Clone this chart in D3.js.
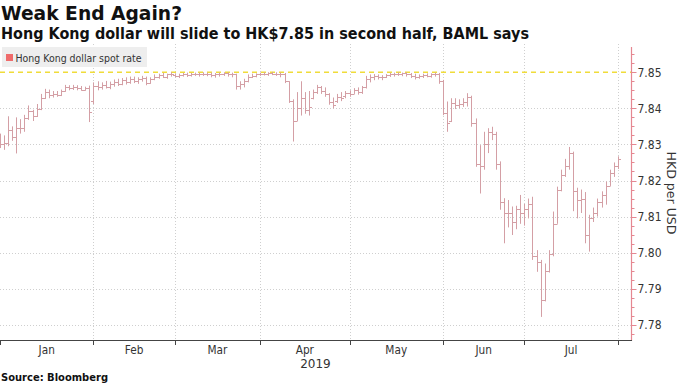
<!DOCTYPE html>
<html><head><meta charset="utf-8">
<script src="https://cdn.jsdelivr.net/npm/d3@7"></script>
<style>html,body{margin:0;padding:0;background:#fff}svg{display:block}</style>
</head><body>
<svg id="c" width="680" height="383"></svg>
<script>
// ---------- text ----------
const titleText = "Weak End Again?";
const subtitleText = "Hong Kong dollar will slide to HK$7.85 in second half, BAML says";
const seriesName = "Hong Kong dollar spot rate";
const sourceText = "Source: Bloomberg";
const yAxisTitle = "HKD per USD";
const yearLabel = "2019";
const monthLabels = ["Jan","Feb","Mar","Apr","May","Jun","Jul"];
const yTickValues = [7.78,7.79,7.80,7.81,7.82,7.83,7.84,7.85];
const pegLine = 7.85;
const firstDay = "2019-01-01", lastDay = "2019-08-01";

// ---------- daily OHLC (trading days) ----------
const openVals = [
 7.8320,7.8300,7.8305,7.8340,7.8320,7.8345,7.8345,7.8372,7.8392,7.8378,
 7.8398,7.8430,7.8445,7.8436,7.8440,7.8438,7.8448,7.8458,7.8456,7.8460,
 7.8455,7.8452,7.8456,
 7.8420,7.8462,7.8458,7.8466,7.8460,7.8468,7.8472,7.8468,7.8478,7.8472,
 7.8482,7.8476,7.8480,7.8484,7.8470,7.8482,7.8488,7.8492,7.8488,7.8494,
 7.8492,7.8490,7.8493,7.8494,7.8492,7.8495,7.8494,7.8496,7.8495,7.8494,
 7.8492,7.8495,7.8496,7.8497,7.8496,7.8494,7.8462,7.8468,7.8476,7.8488,7.8490,
 7.8494,7.8496,7.8495,7.8497,7.8496,7.8494,7.8496,7.8475,7.8420,7.8365,
 7.8400,7.8430,7.8395,7.8430,7.8445,7.8458,7.8448,7.8440,7.8418,7.8420,7.8432,7.8435,
 7.8442,7.8440,7.8450,7.8445,7.8458,7.8480,7.8488,7.8490,7.8486,7.8488,
 7.8492,7.8494,7.8496,7.8495,7.8497,7.8494,7.8490,7.8486,7.8490,7.8492,
 7.8490,7.8494,7.8496,
 7.8475,7.8386,7.8365,7.8415,7.8410,7.8412,7.8418,7.8432,7.8360,7.8245,
 7.8240,7.8300,7.8335,7.8330,7.8245,7.8140,7.8110,7.8110,7.8085,7.8120,
 7.8110,7.8120,7.8135,7.7990,7.7975,7.7868,7.7950,7.7995,7.8080,7.8175,
 7.8215,7.8240,7.8275,7.8170,7.8145,7.8150,7.8050,7.8095,7.8110,7.8140,
 7.8160,7.8185,7.8222,7.8240
];
const highVals = [
 7.8330,7.8325,7.8378,7.8350,7.8375,7.8370,7.8382,7.8408,7.8396,7.8412,
 7.8440,7.8454,7.8452,7.8448,7.8448,7.8452,7.8465,7.8464,7.8465,7.8464,
 7.8462,7.8460,7.8463,
 7.8472,7.8475,7.8472,7.8476,7.8474,7.8480,7.8482,7.8484,7.8486,7.8488,
 7.8488,7.8486,7.8490,7.8488,7.8486,7.8494,7.8496,7.8498,7.8496,7.8500,
 7.8497,7.8496,7.8498,7.8499,7.8498,7.8499,7.8499,7.8500,7.8499,7.8499,
 7.8498,7.8499,7.8500,7.8500,7.8499,7.8496,7.8475,7.8482,7.8494,7.8496,7.8497,
 7.8499,7.8500,7.8500,7.8501,7.8500,7.8499,7.8498,7.8475,7.8425,7.8445,
 7.8475,7.8445,7.8448,7.8452,7.8465,7.8462,7.8458,7.8442,7.8430,7.8440,7.8445,7.8448,
 7.8450,7.8456,7.8458,7.8462,7.8490,7.8494,7.8495,7.8494,7.8492,7.8495,
 7.8498,7.8499,7.8500,7.8499,7.8500,7.8498,7.8496,7.8494,7.8496,7.8497,
 7.8497,7.8499,7.8498,
 7.8479,7.8419,7.8428,7.8428,7.8425,7.8428,7.8442,7.8435,7.8372,7.8298,
 7.8335,7.8345,7.8349,7.8335,7.8253,7.8151,7.8146,7.8128,7.8130,7.8160,
 7.8135,7.8150,7.8155,7.8007,7.7980,7.7970,7.8007,7.8114,7.8183,7.8230,
 7.8260,7.8293,7.8280,7.8180,7.8175,7.8168,7.8105,7.8125,7.8150,7.8170,
 7.8197,7.8230,7.8250,7.8267
];
const lowVals = [
 7.8290,7.8285,7.8295,7.8310,7.8275,7.8330,7.8335,7.8368,7.8365,7.8376,
 7.8395,7.8426,7.8428,7.8430,7.8432,7.8434,7.8446,7.8450,7.8451,7.8450,
 7.8449,7.8449,7.8362,
 7.8412,7.8450,7.8452,7.8455,7.8453,7.8460,7.8462,7.8464,7.8466,7.8468,
 7.8470,7.8468,7.8474,7.8464,7.8468,7.8478,7.8482,7.8484,7.8482,7.8488,
 7.8486,7.8484,7.8488,7.8487,7.8488,7.8490,7.8488,7.8490,7.8489,7.8486,
 7.8485,7.8488,7.8490,7.8488,7.8486,7.8452,7.8452,7.8458,7.8472,7.8484,7.8486,
 7.8490,7.8491,7.8490,7.8492,7.8490,7.8486,7.8470,7.8415,7.8308,7.8365,
 7.8380,7.8385,7.8380,7.8425,7.8440,7.8440,7.8432,7.8410,7.8400,7.8415,7.8420,7.8428,
 7.8432,7.8440,7.8438,7.8440,7.8455,7.8472,7.8478,7.8480,7.8478,7.8484,
 7.8487,7.8488,7.8490,7.8489,7.8488,7.8484,7.8480,7.8482,7.8484,7.8486,
 7.8485,7.8488,7.8468,
 7.8381,7.8335,7.8362,7.8398,7.8400,7.8404,7.8405,7.8349,7.8238,7.8164,
 7.8230,7.8276,7.8312,7.8230,7.8119,7.8026,7.8070,7.8049,7.8065,7.8080,
 7.8075,7.8095,7.7980,7.7947,7.7822,7.7865,7.7945,7.7990,7.8080,7.8170,
 7.8210,7.8230,7.8115,7.8095,7.8110,7.8026,7.8003,7.8085,7.8100,7.8125,
 7.8133,7.8185,7.8210,7.8232
];
const closeVals = [
 7.8300,7.8305,7.8340,7.8320,7.8345,7.8345,7.8372,7.8392,7.8378,7.8398,
 7.8430,7.8445,7.8436,7.8440,7.8438,7.8448,7.8458,7.8456,7.8460,7.8455,
 7.8452,7.8456,7.8390,
 7.8462,7.8458,7.8466,7.8460,7.8468,7.8472,7.8468,7.8478,7.8472,7.8482,
 7.8476,7.8480,7.8484,7.8470,7.8482,7.8488,7.8492,7.8488,7.8494,7.8496,
 7.8490,7.8493,7.8494,7.8492,7.8495,7.8494,7.8496,7.8495,7.8494,7.8492,
 7.8495,7.8496,7.8497,7.8496,7.8494,7.8462,7.8468,7.8476,7.8488,7.8490,7.8494,
 7.8496,7.8495,7.8497,7.8496,7.8494,7.8496,7.8475,7.8420,7.8365,7.8400,
 7.8430,7.8395,7.8405,7.8445,7.8458,7.8448,7.8440,7.8418,7.8410,7.8432,7.8428,7.8442,
 7.8440,7.8450,7.8445,7.8458,7.8480,7.8488,7.8490,7.8486,7.8488,7.8492,
 7.8494,7.8496,7.8495,7.8497,7.8494,7.8490,7.8486,7.8490,7.8492,7.8490,
 7.8494,7.8496,7.8475,
 7.8386,7.8360,7.8415,7.8410,7.8412,7.8418,7.8432,7.8360,7.8245,7.8240,
 7.8300,7.8335,7.8330,7.8245,7.8140,7.8110,7.8110,7.8085,7.8120,7.8110,
 7.8120,7.8135,7.7990,7.7975,7.7868,7.7950,7.7995,7.8080,7.8175,7.8215,
 7.8240,7.8275,7.8170,7.8145,7.8150,7.8050,7.8095,7.8110,7.8140,7.8160,
 7.8185,7.8222,7.8240,7.8260
];

// ---------- layout ----------
const plot = {left: 0, right: 631, top: 47, bottom: 340};
const barColor = "#d49fa5";
const legendColor = "#ef6b6b";
const axisColor = "#e58791";

const svg = d3.select("#c");
const parse = d3.timeParse("%Y-%m-%d");
const days = d3.timeDay.range(parse(firstDay), d3.timeDay.offset(parse(lastDay), 1))
  .filter(d => d.getDay() !== 0 && d.getDay() !== 6);
const n = Math.min(days.length, openVals.length);
const data = d3.range(n).map(i => ({i, date: days[i], o: openVals[i], h: highVals[i], l: lowVals[i], c: closeVals[i]}));

const x = d3.scaleLinear().domain([0, 155.25]).range([plot.left, plot.right]);
const y = d3.scaleLinear().domain([7.7758, 7.857]).range([plot.bottom, plot.top]);
const cx = v => Math.round(v) + 0.5;
const cy = v => Math.round(v) + 0.5;

// month boundaries (first trading day of each month)
const monthStarts = [0];
for (let i = 1; i < days.length; i++) if (days[i].getMonth() !== days[i-1].getMonth()) monthStarts.push(i);

// ---------- grid ----------
const grid = svg.append("g");
grid.selectAll("line.h").data(yTickValues.filter(v => v !== pegLine)).join("line")
  .attr("x1", plot.left).attr("x2", plot.right)
  .attr("y1", d => cy(y(d))).attr("y2", d => cy(y(d)))
  .attr("stroke", "#cfcfcf").attr("stroke-width", 1).attr("stroke-dasharray", "1,2");
grid.selectAll("line.v").data(monthStarts.slice(1)).join("line")
  .attr("x1", d => cx(x(d))).attr("x2", d => cx(x(d)))
  .attr("y1", plot.top - 3).attr("y2", plot.bottom)
  .attr("stroke", "#cfcfcf").attr("stroke-width", 1).attr("stroke-dasharray", "1,2");

// ---------- legend ----------
const lg = svg.append("g");
lg.append("rect").attr("x", 2).attr("y", 47).attr("width", 145).attr("height", 20).attr("fill", "#eeeeee");
lg.append("rect").attr("x", 6).attr("y", 54).attr("width", 7).attr("height", 7).attr("fill", legendColor);
lg.append("text").attr("x", 15.5).attr("y", 61.5).text(seriesName)
  .attr("font-family", "DejaVu Sans, sans-serif").attr("font-size", 11).attr("fill", "#333")
  .attr("textLength", 126).attr("lengthAdjust", "spacingAndGlyphs");

// ---------- peg line ----------
svg.append("line").attr("x1", plot.left).attr("x2", plot.right)
  .attr("y1", y(pegLine)).attr("y2", y(pegLine))
  .attr("stroke", "#f0dc3a").attr("stroke-width", 1.5).attr("stroke-dasharray", "5,4");

// ---------- OHLC bars ----------
const bars = svg.append("g").attr("stroke", barColor).attr("stroke-width", 1).attr("fill", "none");
const bg = bars.selectAll("g").data(data).join("g");
bg.append("line").attr("x1", d => cx(x(d.i))).attr("x2", d => cx(x(d.i)))
  .attr("y1", d => y(d.h)).attr("y2", d => y(d.l));
bg.append("line").attr("x1", d => cx(x(d.i)) - 2.5).attr("x2", d => cx(x(d.i)))
  .attr("y1", d => cy(y(d.o))).attr("y2", d => cy(y(d.o)));
bg.append("line").attr("x1", d => cx(x(d.i))).attr("x2", d => cx(x(d.i)) + 2.5)
  .attr("y1", d => cy(y(d.c))).attr("y2", d => cy(y(d.c)));

// ---------- y axis (right) ----------
const ya = svg.append("g").attr("transform", `translate(${plot.right + 0.5},0)`);
const minor = d3.range(7.7775, 7.8575, 0.0025).filter(v => v < 7.857 && v > 7.7758);
ya.selectAll("line.minor").data(minor).join("line")
  .attr("x1", 0).attr("x2", 3).attr("y1", d => cy(y(d))).attr("y2", d => cy(y(d)))
  .attr("stroke", axisColor);
ya.append("line").attr("x1", 0).attr("x2", 0).attr("y1", plot.top).attr("y2", plot.bottom + 1)
  .attr("stroke", axisColor).attr("stroke-width", 1.2);
ya.selectAll("line.major").data(yTickValues).join("line")
  .attr("x1", 0).attr("x2", 5).attr("y1", d => cy(y(d))).attr("y2", d => cy(y(d)))
  .attr("stroke", axisColor);
ya.selectAll("text").data(yTickValues).join("text")
  .attr("x", 6).attr("y", d => y(d)).attr("dy", "0.35em")
  .attr("font-family", "DejaVu Sans, sans-serif").attr("font-size", 12.5).attr("fill", "#333")
  .attr("textLength", 24).attr("lengthAdjust", "spacingAndGlyphs")
  .text(d => d3.format(".2f")(d));
svg.append("text").attr("transform", `translate(671,193) rotate(90)`)
  .attr("text-anchor", "middle").attr("dy", "0.35em")
  .attr("font-family", "DejaVu Sans, sans-serif").attr("font-size", 12.5).attr("fill", "#333")
  .attr("textLength", 83).attr("lengthAdjust", "spacingAndGlyphs")
  .text(yAxisTitle);

// ---------- x axis ----------
const xa = svg.append("g");
xa.append("line").attr("x1", plot.left).attr("x2", plot.right + 1)
  .attr("y1", plot.bottom + 0.5).attr("y2", plot.bottom + 0.5).attr("stroke", "#444");
xa.selectAll("line.t").data(monthStarts).join("line")
  .attr("x1", d => cx(x(d))).attr("x2", d => cx(x(d)))
  .attr("y1", plot.bottom).attr("y2", plot.bottom + 5).attr("stroke", "#444");
const mids = monthLabels.map((m, k) => ({m, xm: (x(monthStarts[k]) + x(monthStarts[k + 1])) / 2}));
xa.selectAll("text.m").data(mids).join("text")
  .attr("x", d => d.xm).attr("y", 354).attr("text-anchor", "middle")
  .attr("font-family", "DejaVu Sans, sans-serif").attr("font-size", 12).attr("fill", "#333")
  .attr("transform", d => `translate(${d.xm},0) scale(0.88,1) translate(${-d.xm},0)`)
  .text(d => d.m);
xa.append("text").attr("x", (plot.left + plot.right) / 2).attr("y", 368).attr("text-anchor", "middle")
  .attr("font-family", "DejaVu Sans, sans-serif").attr("font-size", 12).attr("fill", "#333")
  .text(yearLabel);

// ---------- titles ----------
svg.append("text").attr("x", 1).attr("y", 20).text(titleText)
  .attr("font-family", "DejaVu Sans, sans-serif").attr("font-weight", "bold").attr("font-size", 20).attr("fill", "#111")
  .attr("textLength", 181).attr("lengthAdjust", "spacingAndGlyphs");
svg.append("text").attr("x", 1).attr("y", 39).text(subtitleText)
  .attr("font-family", "DejaVu Sans, sans-serif").attr("font-weight", "bold").attr("font-size", 15).attr("fill", "#111")
  .attr("textLength", 528).attr("lengthAdjust", "spacingAndGlyphs");
svg.append("text").attr("x", 1).attr("y", 381).text(sourceText)
  .attr("font-family", "DejaVu Sans, sans-serif").attr("font-weight", "bold").attr("font-size", 11).attr("fill", "#111")
  .attr("textLength", 107).attr("lengthAdjust", "spacingAndGlyphs");
</script>
</body></html>
